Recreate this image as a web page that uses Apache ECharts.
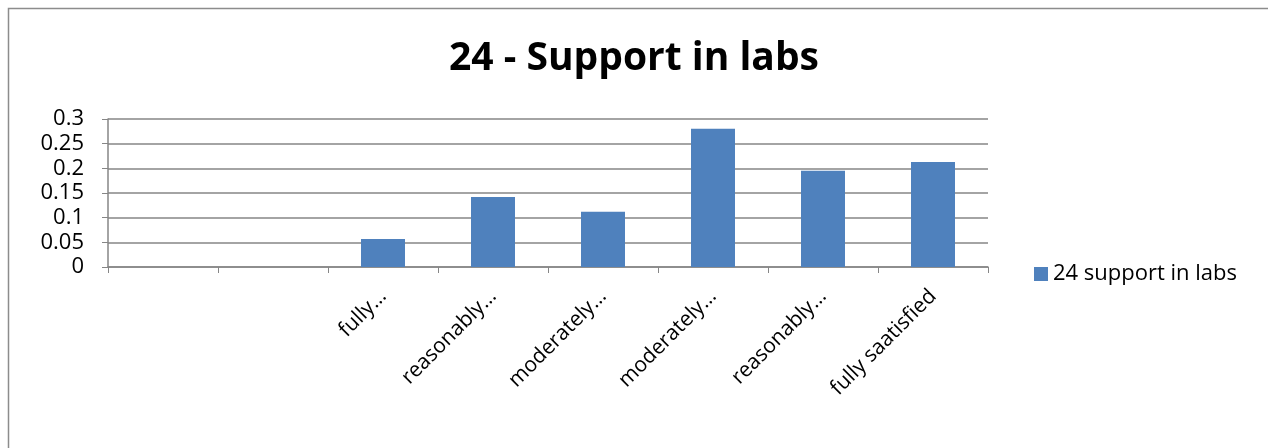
<!DOCTYPE html>
<html>
<head>
<meta charset="utf-8">
<title>24 - Support in labs</title>
<script src="https://cdn.jsdelivr.net/npm/echarts@6/dist/echarts.min.js"></script>
<style>
  html, body { margin: 0; padding: 0; background: #fff; }
  #chart { width: 1268px; height: 448px; }
</style>
</head>
<body>
<div id="chart"></div>
<script>
// data
const categories = ['', '', 'fully…', 'reasonably…', 'moderately…', 'moderately…', 'reasonably…', 'fully saatisfied']
const supportValues = [0, 0, 0.057, 0.142, 0.112, 0.28, 0.195, 0.213]
const seriesName = '24 support in labs'
const titleText = '24 - Support in labs'

const font = '"Open Sans", "Liberation Sans", sans-serif'
const gridColor = '#868686'

const myChart = echarts.init(document.getElementById('chart'), null, { renderer: 'canvas' })

const option = {
  animation: false,
  backgroundColor: '#fff',
  // outer chart border (right and bottom edges fall outside the picture)
  graphic: [
    {
      type: 'rect',
      shape: { x: 8.5, y: 8.5, width: 1300, height: 500 },
      style: { fill: 'none', stroke: '#8c8c8c', lineWidth: 1.5 },
      silent: true
    }
  ],
  title: {
    text: titleText,
    left: 'center',
    top: 34,
    textStyle: { fontFamily: font, fontSize: 39, fontWeight: 'bold', color: '#000' }
  },
  legend: {
    left: 1029,
    top: 258,
    itemWidth: 14,
    itemHeight: 14,
    icon: 'rect',
    itemGap: 6,
    textStyle: { fontFamily: font, fontSize: 22, color: '#000' },
    data: [seriesName]
  },
  grid: {
    left: 108,
    right: 280,
    top: 119,
    bottom: 181,
    containLabel: false
  },
  xAxis: {
    type: 'category',
    data: categories,
    axisLine: { lineStyle: { color: gridColor, width: 1.5 } },
    axisTick: { show: true, alignWithLabel: false, length: 6, lineStyle: { color: gridColor } },
    axisLabel: {
      interval: 0,
      rotate: 45,
      margin: 26,
      fontFamily: font,
      fontSize: 21,
      color: '#000'
    }
  },
  yAxis: {
    type: 'value',
    min: 0,
    max: 0.3,
    interval: 0.05,
    axisLine: { show: true, lineStyle: { color: gridColor, width: 1.5 } },
    axisTick: { show: true, length: 6, lineStyle: { color: gridColor } },
    splitLine: { show: true, lineStyle: { color: gridColor, width: 1.5 } },
    axisLabel: {
      margin: 24,
      fontFamily: font,
      fontSize: 22,
      color: '#000',
      lineHeight: 22,
      formatter: (v) => String(Math.round(v * 100) / 100)
    }
  },
  series: [
    {
      name: seriesName,
      type: 'bar',
      data: supportValues,
      barCategoryGap: '60%',
      itemStyle: { color: '#4f81bd' }
    }
  ]
}

myChart.setOption(option)
window.addEventListener('resize', myChart.resize)
</script>
</body>
</html>
